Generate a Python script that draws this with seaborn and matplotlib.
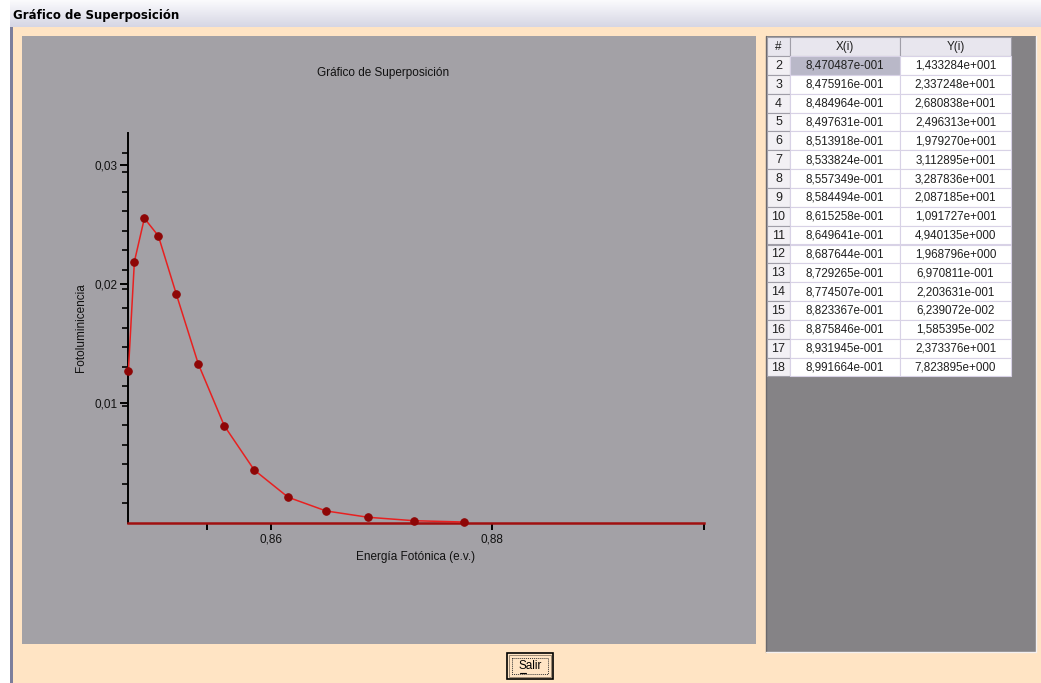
import numpy as np
import pandas as pd
import matplotlib
matplotlib.use("Agg")
import matplotlib.pyplot as plt
from matplotlib.patches import Rectangle
from matplotlib.ticker import FixedLocator, FixedFormatter
import seaborn as sns

# ---------------- data ----------------
window_title = "Gráfico de Superposición"
chart_title = "Gráfico de Superposición"
x_label = "Energía Fotónica (e.v.)"
y_label = "Fotoluminicencia"
button_text = "Salir"

table_rows = [2, 3, 4, 5, 6, 7, 8, 9, 10, 11, 12, 13, 14, 15, 16, 17, 18]
table_x = [8.470487e-01, 8.475916e-01, 8.484964e-01, 8.497631e-01, 8.513918e-01,
           8.533824e-01, 8.557349e-01, 8.584494e-01, 8.615258e-01, 8.649641e-01,
           8.687644e-01, 8.729265e-01, 8.774507e-01, 8.823367e-01, 8.875846e-01,
           8.931945e-01, 8.991664e-01]
table_y = [1.433284e+01, 2.337248e+01, 2.680838e+01, 2.496313e+01, 1.979270e+01,
           3.112895e+01, 3.287836e+01, 2.087185e+01, 1.091727e+01, 4.940135e+00,
           1.968796e+00, 6.970811e-01, 2.203631e-01, 6.239072e-02, 1.585395e-02,
           2.373376e+01, 7.823895e+00]

# plotted photoluminescence values, at the first 13 X values
plot_y = [0.01276, 0.02192, 0.02556, 0.02408, 0.01918, 0.01332, 0.00813,
          0.00441, 0.00212, 0.00097, 0.00044, 0.00015, 0.00004]

y_major_ticks = [0.01, 0.02, 0.03]
y_major_labels = ["0,01", "0,02", "0,03"]
x_major_ticks = [0.86, 0.88]
x_major_labels = ["0,86", "0,88"]
x_minor_ticks = [0.8542, 0.8991664]
y_top = 0.0327

# ---------------- style ----------------
sns.set_theme(style="white")
plt.rcParams["font.family"] = ["Liberation Sans", "DejaVu Sans"]

W, H = 1041, 683
fig = plt.figure(figsize=(W / 100, H / 100), dpi=100)
fig.patch.set_facecolor("#FFE4C4")

# background / widget layer in pixel coordinates
bg = fig.add_axes([0, 0, 1, 1], zorder=0)
bg.set_xlim(0, W)
bg.set_ylim(H, 0)
bg.axis("off")

# left white strip and window border
bg.add_patch(Rectangle((0, 0), 10, H, color="white", lw=0))
bg.add_patch(Rectangle((10, 0), 3, H, color="#7C7E9C", lw=0))
# title bar gradient
grad = np.linspace(0, 1, 64).reshape(-1, 1)
bg.imshow(grad, extent=(10, W, 27, 0), aspect="auto",
          cmap=matplotlib.colors.LinearSegmentedColormap.from_list("tb", ["#FBFBFD", "#D6D6E4"]),
          zorder=1)
bg.text(13, 16, window_title, fontsize=8.5, fontweight="bold", color="black",
        va="center", ha="left", family=["DejaVu Sans"], zorder=2)

# chart panel
bg.add_patch(Rectangle((22, 36), 734, 608, facecolor="#A3A1A6", edgecolor="none"))
bg.text(383, 73, chart_title, fontsize=8.5, ha="center", va="center", color="#111111")

# table panel
bg.add_patch(Rectangle((766, 36), 270, 616, facecolor="#858386", edgecolor="none"))
bg.plot([766, 766], [36, 652], color="#6A686C", lw=1)
bg.plot([766, 1036], [652, 652], color="#F4F0F0", lw=1)
bg.plot([1036, 1036], [36, 652], color="#F4F0F0", lw=1)

col_edges = [767, 790, 900, 1011]
header_top, header_h, row_h = 37, 19, 18.85
tfs = 8.4
# header
headers = ["#", "X(i)", "Y(i)"]
for j, h in enumerate(headers):
    bg.add_patch(Rectangle((col_edges[j], header_top), col_edges[j + 1] - col_edges[j], header_h,
                           facecolor="#E8E6EE", edgecolor="#A09EA8", lw=0.8, zorder=2))
    bg.text((col_edges[j] + col_edges[j + 1]) / 2, header_top + header_h / 2 + 0.5, h,
            fontsize=tfs, ha="center", va="center", color="#202020", zorder=3)


def win_sci(v):
    s = f"{v:.6e}"
    mant, ex = s.split("e")
    e = int(ex)
    return f"{mant.replace('.', ',')}e{'+' if e >= 0 else '-'}{abs(e):03d}"


for i, (r, xv, yv) in enumerate(zip(table_rows, table_x, table_y)):
    top = header_top + header_h + i * row_h
    cy = top + row_h / 2 + 0.5
    bg.add_patch(Rectangle((col_edges[0], top), col_edges[1] - col_edges[0], row_h,
                           facecolor="#F2F0F4", edgecolor="#A09EA8", lw=0.8, zorder=2))
    xfc = "#B9B8C8" if i == 0 else "white"
    bg.add_patch(Rectangle((col_edges[1], top), col_edges[2] - col_edges[1], row_h,
                           facecolor=xfc, edgecolor="#D8D2E6", lw=0.8, zorder=2))
    bg.add_patch(Rectangle((col_edges[2], top), col_edges[3] - col_edges[2], row_h,
                           facecolor="white", edgecolor="#D8D2E6", lw=0.8, zorder=2))
    bg.text((col_edges[0] + col_edges[1]) / 2, cy, str(r), fontsize=tfs + 0.6, ha="center",
            va="center", color="#202020", zorder=3)
    bg.text((col_edges[1] + col_edges[2]) / 2, cy, win_sci(xv), fontsize=tfs, ha="center",
            va="center", color="#202020", zorder=3)
    bg.text((col_edges[2] + col_edges[3]) / 2, cy, win_sci(yv), fontsize=tfs, ha="center",
            va="center", color="#202020", zorder=3)

# button
bg.add_patch(Rectangle((507, 653), 46, 26, facecolor="#FFE4C4", edgecolor="black", lw=1.2, zorder=2))
bg.add_patch(Rectangle((509, 655), 42, 22, facecolor="none", edgecolor="#8C7A66", lw=0.6, zorder=2))
bg.add_patch(Rectangle((512, 658), 36, 16, facecolor="none", edgecolor="#333333", lw=0.7,
                       linestyle=(0, (1, 1)), zorder=2))
bg.text(530, 666, button_text, fontsize=8.5, ha="center", va="center", color="black", zorder=3)
bg.plot([519.5, 525.5], [672.5, 672.5], color="black", lw=0.8, zorder=3)

# ---------------- chart ----------------
left_px, right_px, top_px, bot_px = 128.4, 703.6, 133.3, 522.5
ax = fig.add_axes([left_px / W, (H - bot_px) / H, (right_px - left_px) / W, (bot_px - top_px) / H],
                  zorder=2)
ax.set_facecolor("none")

df = pd.DataFrame({"energia": table_x[:len(plot_y)], "fl": plot_y})
sns.lineplot(data=df, x="energia", y="fl", ax=ax, color="#E82020", lw=1.1,
             marker="o", markersize=5.4, markerfacecolor="#8E0606",
             markeredgecolor="#8E0606", clip_on=False, zorder=5)

ax.set_xlim(table_x[0], table_x[-1])
ax.set_ylim(0, y_top)

for s in ["top", "right"]:
    ax.spines[s].set_visible(False)
ax.spines["left"].set_color("black")
ax.spines["left"].set_linewidth(1.4)
ax.spines["bottom"].set_color("#A01010")
ax.spines["bottom"].set_linewidth(1.8)

ax.yaxis.set_major_locator(FixedLocator(y_major_ticks))
ax.yaxis.set_major_formatter(FixedFormatter(y_major_labels))
ax.yaxis.set_minor_locator(FixedLocator([y_top * k / 20 for k in range(1, 20)]))
ax.xaxis.set_major_locator(FixedLocator(x_major_ticks))
ax.xaxis.set_major_formatter(FixedFormatter(x_major_labels))
ax.xaxis.set_minor_locator(FixedLocator(x_minor_ticks))

ax.tick_params(axis="y", which="major", direction="out", length=6, width=1.4, color="black",
               labelsize=8.5, labelcolor="#111111", pad=2, left=True)
ax.tick_params(axis="y", which="minor", direction="out", length=4.5, width=1.2, color="black", left=True)
ax.tick_params(axis="x", which="major", direction="out", length=5, width=1.4, color="black",
               labelsize=8.5, labelcolor="#111111", pad=3, bottom=True)
ax.tick_params(axis="x", which="minor", direction="out", length=5, width=1.4, color="black", bottom=True)

ax.set_xlabel(x_label, fontsize=8.5, color="#111111")
ax.set_ylabel(y_label, fontsize=8.5, color="#111111")
ax.xaxis.set_label_coords(0.5, -0.074)
ax.yaxis.set_label_coords(-0.072, 0.5)
ax.grid(False)

fig.savefig("out.png", dpi=100, facecolor=fig.get_facecolor())
